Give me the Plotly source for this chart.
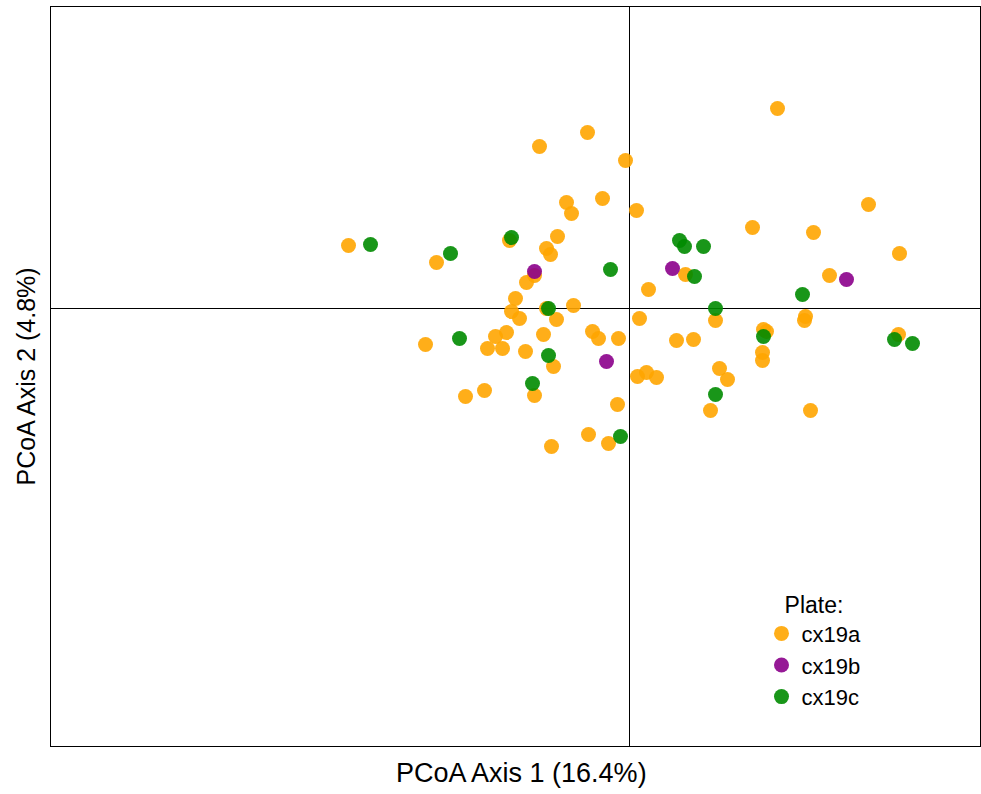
import plotly.graph_objects as go

# PCoA coordinates (arbitrary units)
a_x = [-0.281, -0.090, -0.042, -0.004, -0.063, -0.058, -0.027, 0.007, -0.072, -0.120,
       -0.083, -0.079, -0.193, -0.095, -0.103, 0.019, -0.114, -0.056, -0.118, -0.110,
       -0.073, -0.083, 0.010, -0.204, -0.134, -0.123, -0.142, -0.127, -0.104, -0.086,
       -0.037, -0.031, -0.011, -0.076, -0.164, -0.145, -0.095, -0.012, -0.041, -0.021,
       -0.078, 0.008, 0.017, 0.027, 0.148, 0.123, 0.184, 0.239, 0.270, 0.056,
       0.200, 0.176, 0.175, 0.047, 0.064, 0.086, 0.134, 0.137, 0.269, 0.133,
       0.133, 0.090, 0.098, 0.081, 0.181]
a_y = [0.063, 0.162, 0.176, 0.148, 0.106, 0.095, 0.110, 0.098, 0.072, 0.068,
       0.060, 0.054, 0.046, 0.033, 0.026, 0.019, 0.010, 0.003, -0.003, -0.010,
       -0.011, 0.000, -0.010, -0.036, -0.028, -0.024, -0.040, -0.040, -0.043, -0.026,
       -0.023, -0.030, -0.030, -0.058, -0.088, -0.082, -0.087, -0.096, -0.126, -0.135,
       -0.138, -0.068, -0.064, -0.069, 0.200, 0.081, 0.076, 0.104, 0.055, 0.034,
       0.033, -0.008, -0.012, -0.032, -0.031, -0.012, -0.021, -0.023, -0.026, -0.044,
       -0.052, -0.060, -0.071, -0.102, -0.102]

b_x = [-0.095, -0.023, 0.043, 0.217]
b_y = [0.037, -0.053, 0.040, 0.029]

c_x = [-0.259, -0.179, -0.118, -0.019, -0.081, -0.170, -0.081, -0.097, -0.009, 0.050,
       0.055, 0.074, 0.065, 0.173, 0.086, 0.134, 0.265, 0.283, 0.086]
c_y = [0.064, 0.055, 0.071, 0.039, 0.000, -0.030, -0.047, -0.075, -0.128, 0.068,
       0.062, 0.062, 0.032, 0.014, 0.000, -0.028, -0.031, -0.035, -0.086]

plates = ["cx19a", "cx19b", "cx19c"]
colors = ["#FFA500", "#8B008B", "#008B00"]
xs = [a_x, b_x, c_x]
ys = [a_y, b_y, c_y]

x_title = "PCoA Axis 1 (16.4%)"
y_title = "PCoA Axis 2 (4.8%)"

fig = go.Figure()
for name, col, x, y in zip(plates, colors, xs, ys):
    fig.add_trace(go.Scatter(
        x=x, y=y, mode="markers", name=name,
        marker=dict(size=15, color=col, opacity=0.9, line=dict(width=0)),
    ))

FONT = "Liberation Sans, Arial, Helvetica, sans-serif"

axis_common = dict(
    showgrid=False, showticklabels=False, ticks="",
    zeroline=True, zerolinecolor="black", zerolinewidth=1,
    showline=True, linecolor="black", linewidth=1, mirror=True,
)

fig.update_layout(
    width=981, height=794,
    margin=dict(l=51, r=1, t=7, b=48),
    paper_bgcolor="white", plot_bgcolor="white",
    font=dict(family=FONT, size=22, color="black"),
    xaxis=dict(range=[-0.5785, 0.3505], **axis_common),
    yaxis=dict(range=[-0.4375, 0.3015], **axis_common),
    showlegend=True,
    legend=dict(
        title=dict(text="Plate:", side="top center", font=dict(size=23)),
        x=0.7648, y=0.221, xanchor="left", yanchor="top",
        bgcolor="rgba(0,0,0,0)", borderwidth=0,
        font=dict(size=22), itemsizing="trace", tracegroupgap=0,
    ),
    annotations=[
        dict(text=x_title, xref="paper", yref="paper", x=(521 - 51) / 929, y=-27 / 739,
             xanchor="center", yanchor="middle", showarrow=False,
             font=dict(size=27)),
        dict(text=y_title, xref="paper", yref="paper", x=-26 / 929, y=0.5,
             xanchor="center", yanchor="middle", showarrow=False, textangle=-90,
             font=dict(size=25)),
    ],
)

fig.write_html("out.html")
